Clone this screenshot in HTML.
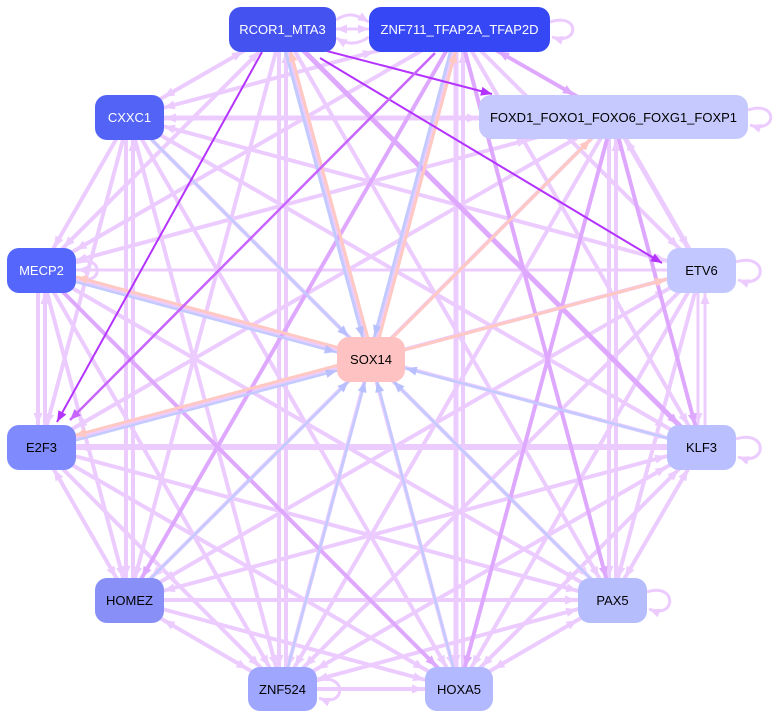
<!DOCTYPE html>
<html><head><meta charset="utf-8"><style>
html,body{margin:0;padding:0;background:#fff;}
svg{display:block;}
.l{stroke:#ecccff;fill:none}
.m{stroke:#dfa8ff;fill:none}
.b{stroke:#c3caff;fill:none}
.r{stroke:#ffc8c2;fill:none}
text{font-family:"Liberation Sans",Arial,sans-serif;font-size:13px;text-anchor:middle}
</style></head><body>
<svg width="777" height="718" viewBox="0 0 777 718" xmlns="http://www.w3.org/2000/svg">
<defs>
<marker id="l0" markerUnits="userSpaceOnUse" orient="auto-start-reverse" refX="11" refY="4.5" markerWidth="12" markerHeight="9" overflow="visible"><path d="M0,0L11,4.5L0,9z" fill="#ecccff"/></marker>
<marker id="l23" markerUnits="userSpaceOnUse" orient="auto-start-reverse" refX="34" refY="4.5" markerWidth="12" markerHeight="9" overflow="visible"><path d="M0,0L11,4.5L0,9z" fill="#ecccff"/></marker>
<marker id="l26" markerUnits="userSpaceOnUse" orient="auto-start-reverse" refX="37" refY="4.5" markerWidth="12" markerHeight="9" overflow="visible"><path d="M0,0L11,4.5L0,9z" fill="#ecccff"/></marker>
<marker id="l32" markerUnits="userSpaceOnUse" orient="auto-start-reverse" refX="43" refY="4.5" markerWidth="12" markerHeight="9" overflow="visible"><path d="M0,0L11,4.5L0,9z" fill="#ecccff"/></marker>
<marker id="l36" markerUnits="userSpaceOnUse" orient="auto-start-reverse" refX="47" refY="4.5" markerWidth="12" markerHeight="9" overflow="visible"><path d="M0,0L11,4.5L0,9z" fill="#ecccff"/></marker>
<marker id="l40" markerUnits="userSpaceOnUse" orient="auto-start-reverse" refX="51" refY="4.5" markerWidth="12" markerHeight="9" overflow="visible"><path d="M0,0L11,4.5L0,9z" fill="#ecccff"/></marker>
<marker id="l45" markerUnits="userSpaceOnUse" orient="auto-start-reverse" refX="56" refY="4.5" markerWidth="12" markerHeight="9" overflow="visible"><path d="M0,0L11,4.5L0,9z" fill="#ecccff"/></marker>
<marker id="l88" markerUnits="userSpaceOnUse" orient="auto-start-reverse" refX="99" refY="4.5" markerWidth="12" markerHeight="9" overflow="visible"><path d="M0,0L11,4.5L0,9z" fill="#ecccff"/></marker>
<marker id="l135" markerUnits="userSpaceOnUse" orient="auto-start-reverse" refX="146" refY="4.5" markerWidth="12" markerHeight="9" overflow="visible"><path d="M0,0L11,4.5L0,9z" fill="#ecccff"/></marker>
<marker id="m23" markerUnits="userSpaceOnUse" orient="auto-start-reverse" refX="34" refY="4.5" markerWidth="12" markerHeight="9" overflow="visible"><path d="M0,0L11,4.5L0,9z" fill="#dfa8ff"/></marker>
<marker id="m26" markerUnits="userSpaceOnUse" orient="auto-start-reverse" refX="37" refY="4.5" markerWidth="12" markerHeight="9" overflow="visible"><path d="M0,0L11,4.5L0,9z" fill="#dfa8ff"/></marker>
<marker id="m32" markerUnits="userSpaceOnUse" orient="auto-start-reverse" refX="43" refY="4.5" markerWidth="12" markerHeight="9" overflow="visible"><path d="M0,0L11,4.5L0,9z" fill="#dfa8ff"/></marker>
<marker id="m45" markerUnits="userSpaceOnUse" orient="auto-start-reverse" refX="56" refY="4.5" markerWidth="12" markerHeight="9" overflow="visible"><path d="M0,0L11,4.5L0,9z" fill="#dfa8ff"/></marker>
<marker id="b23" markerUnits="userSpaceOnUse" orient="auto-start-reverse" refX="34" refY="4.5" markerWidth="12" markerHeight="9" overflow="visible"><path d="M0,0L11,4.5L0,9z" fill="#b8c0ff"/></marker>
<marker id="b32" markerUnits="userSpaceOnUse" orient="auto-start-reverse" refX="43" refY="4.5" markerWidth="12" markerHeight="9" overflow="visible"><path d="M0,0L11,4.5L0,9z" fill="#b8c0ff"/></marker>
<marker id="b36" markerUnits="userSpaceOnUse" orient="auto-start-reverse" refX="47" refY="4.5" markerWidth="12" markerHeight="9" overflow="visible"><path d="M0,0L11,4.5L0,9z" fill="#b8c0ff"/></marker>
<marker id="r23" markerUnits="userSpaceOnUse" orient="auto-start-reverse" refX="34" refY="4.5" markerWidth="12" markerHeight="9" overflow="visible"><path d="M0,0L11,4.5L0,9z" fill="#ffc8c2"/></marker>
<marker id="r32" markerUnits="userSpaceOnUse" orient="auto-start-reverse" refX="43" refY="4.5" markerWidth="12" markerHeight="9" overflow="visible"><path d="M0,0L11,4.5L0,9z" fill="#ffc8c2"/></marker>
<marker id="r36" markerUnits="userSpaceOnUse" orient="auto-start-reverse" refX="47" refY="4.5" markerWidth="12" markerHeight="9" overflow="visible"><path d="M0,0L11,4.5L0,9z" fill="#ffc8c2"/></marker>
<marker id="d0" markerUnits="userSpaceOnUse" orient="auto-start-reverse" refX="11" refY="4.5" markerWidth="12" markerHeight="9" overflow="visible"><path d="M0,0L11,4.5L0,9z" fill="#b433ff"/></marker>
<marker id="p0" markerUnits="userSpaceOnUse" orient="auto-start-reverse" refX="11" refY="4.5" markerWidth="12" markerHeight="9" overflow="visible"><path d="M0,0L11,4.5L0,9z" fill="#c864ff"/></marker>
</defs>

<!-- light edges -->
<g class="l" stroke-width="4">
<line x1="282" y1="29" x2="129" y2="117" marker-start="url(#l45)" marker-end="url(#l40)"/>
<line x1="282" y1="29" x2="41" y2="270" marker-start="url(#l32)" marker-end="url(#l32)"/>
<line x1="282" y1="29" x2="129" y2="600" marker-end="url(#l23)"/>
<line x1="282" y1="29" x2="612" y2="600" marker-end="url(#l26)"/>
<line x1="279" y1="29" x2="279" y2="689" marker-end="url(#l23)"/>
<line x1="286" y1="29" x2="286" y2="689" marker-start="url(#l23)"/>
<line x1="282" y1="29" x2="459" y2="689" marker-end="url(#l23)"/>
<line x1="459" y1="29" x2="129" y2="117" marker-start="url(#l88)" marker-end="url(#l36)"/>
<line x1="459" y1="29" x2="41" y2="270" marker-end="url(#l40)"/>
<line x1="459" y1="29" x2="701" y2="270" marker-end="url(#l32)"/>
<line x1="459" y1="29" x2="701" y2="447" marker-end="url(#l26)"/>
<line x1="459" y1="29" x2="282" y2="689" marker-end="url(#l23)"/>
<line x1="456" y1="29" x2="456" y2="689" stroke-width="5" marker-end="url(#l23)"/>
<line x1="463" y1="29" x2="463" y2="689" marker-start="url(#l23)"/>
<line x1="129" y1="118" x2="613" y2="118" stroke-width="5" marker-start="url(#l36)" marker-end="url(#l135)"/>
<line x1="129" y1="117" x2="41" y2="270" marker-end="url(#l26)"/>
<line x1="129" y1="117" x2="701" y2="270" marker-start="url(#l36)" marker-end="url(#l36)"/>
<line x1="129" y1="117" x2="41" y2="447" marker-end="url(#l23)"/>
<line x1="129" y1="117" x2="701" y2="447" marker-end="url(#l40)"/>
<line x1="126" y1="117" x2="126" y2="600" marker-end="url(#l23)"/>
<line x1="133" y1="117" x2="133" y2="600" marker-start="url(#l23)"/>
<line x1="129" y1="117" x2="612" y2="600" marker-end="url(#l32)"/>
<line x1="129" y1="117" x2="282" y2="689" marker-end="url(#l23)"/>
<line x1="129" y1="117" x2="459" y2="689" marker-end="url(#l26)"/>
<line x1="613" y1="117" x2="41" y2="270" marker-start="url(#l88)" marker-end="url(#l36)"/>
<line x1="613" y1="117" x2="701" y2="270" stroke-width="5" marker-start="url(#l26)" marker-end="url(#l26)"/>
<line x1="613" y1="117" x2="41" y2="447" marker-end="url(#l40)"/>
<line x1="613" y1="117" x2="129" y2="600" marker-end="url(#l32)"/>
<line x1="609" y1="117" x2="609" y2="600" marker-end="url(#l23)"/>
<line x1="616" y1="117" x2="616" y2="600" marker-start="url(#l23)"/>
<line x1="613" y1="117" x2="282" y2="689" marker-end="url(#l26)"/>
<line x1="41" y1="270" x2="701" y2="270" stroke-width="3" marker-start="url(#l36)"/>
<line x1="38" y1="270" x2="38" y2="447" marker-end="url(#l23)"/>
<line x1="45" y1="270" x2="45" y2="447" marker-start="url(#l23)"/>
<line x1="41" y1="270" x2="701" y2="447" marker-start="url(#l36)" marker-end="url(#l36)"/>
<line x1="41" y1="270" x2="129" y2="600" marker-end="url(#l23)"/>
<line x1="41" y1="270" x2="612" y2="600" marker-end="url(#l40)"/>
<line x1="41" y1="270" x2="282" y2="689" marker-end="url(#l26)"/>
<line x1="701" y1="270" x2="41" y2="447" marker-end="url(#l36)"/>
<line x1="698" y1="270" x2="698" y2="447" stroke-width="3" marker-end="url(#l23)"/>
<line x1="705" y1="270" x2="705" y2="447" stroke-width="3" marker-start="url(#l23)"/>
<line x1="701" y1="270" x2="129" y2="600" marker-start="url(#l40)" marker-end="url(#l40)"/>
<line x1="701" y1="270" x2="612" y2="600" marker-end="url(#l23)"/>
<line x1="701" y1="270" x2="282" y2="689" marker-end="url(#l32)"/>
<line x1="701" y1="270" x2="459" y2="689" marker-end="url(#l26)"/>
<line x1="41" y1="447" x2="701" y2="447" stroke-width="6" marker-start="url(#l36)"/>
<line x1="41" y1="447" x2="129" y2="600" marker-start="url(#l26)" marker-end="url(#l26)"/>
<line x1="41" y1="447" x2="612" y2="600" marker-end="url(#l36)"/>
<line x1="41" y1="447" x2="282" y2="689" marker-end="url(#l32)"/>
<line x1="41" y1="447" x2="459" y2="689" marker-end="url(#l40)"/>
<line x1="701" y1="447" x2="129" y2="600" marker-start="url(#l36)" marker-end="url(#l36)"/>
<line x1="701" y1="447" x2="612" y2="600" marker-start="url(#l26)" marker-end="url(#l26)"/>
<line x1="701" y1="447" x2="282" y2="689" marker-start="url(#l40)" marker-end="url(#l40)"/>
<line x1="701" y1="447" x2="459" y2="689" marker-start="url(#l32)" marker-end="url(#l32)"/>
<line x1="129" y1="600" x2="612" y2="600" marker-end="url(#l36)"/>
<line x1="129" y1="600" x2="282" y2="689" marker-start="url(#l40)" marker-end="url(#l40)"/>
<line x1="129" y1="600" x2="459" y2="689" marker-end="url(#l36)"/>
<line x1="612" y1="600" x2="282" y2="689" marker-start="url(#l36)" marker-end="url(#l36)"/>
<line x1="612" y1="600" x2="459" y2="689" marker-start="url(#l40)" marker-end="url(#l40)"/>
<line x1="282" y1="689" x2="459" y2="689" marker-end="url(#l36)"/>
</g>

<!-- self loops and A-B curves -->
<g class="l" stroke-width="3">
<path d="M550,22 C580,12 580,46 552,37" marker-end="url(#l0)"/>
<path d="M748,110 C778,100 778,134 750,125" marker-end="url(#l0)"/>
<path d="M76,263 C104,253 104,287 78,278" marker-end="url(#l0)"/>
<path d="M736,262 C768,252 768,290 738,280" marker-end="url(#l0)"/>
<path d="M736,439 C768,429 768,467 738,457" marker-end="url(#l0)"/>
<path d="M647,592 C677,582 677,620 649,609" marker-end="url(#l0)"/>
<path d="M317,681 C347,671 347,709 319,698" marker-end="url(#l0)"/>
<path d="M336,20 C348,12 356,14 369,22" marker-end="url(#l0)"/>
<path d="M369,37 C357,45 348,45 336,38" marker-end="url(#l0)"/>
<path d="M336,29 L369,29" marker-start="url(#l0)" marker-end="url(#l0)"/>
</g>

<!-- medium edges -->
<g class="m" stroke-width="4">
<line x1="282" y1="29" x2="701" y2="447" stroke-width="5" marker-end="url(#m32)"/>
<line x1="459" y1="29" x2="613" y2="117" marker-start="url(#m45)" marker-end="url(#m45)"/>
<line x1="459" y1="29" x2="129" y2="600" marker-end="url(#m26)"/>
<line x1="459" y1="29" x2="612" y2="600" marker-end="url(#m23)"/>
<line x1="613" y1="117" x2="701" y2="447" marker-end="url(#m23)"/>
<line x1="613" y1="117" x2="459" y2="689" marker-end="url(#m23)"/>
<line x1="41" y1="270" x2="459" y2="689" marker-end="url(#m32)"/>
</g>

<!-- SOX14 edges -->
<g stroke-width="3">
<line class="b" x1="279.6" y1="29.6" x2="368.6" y2="359.6" marker-end="url(#b23)"/>
<line class="r" x1="373.4" y1="358.4" x2="284.4" y2="28.4" marker-end="url(#r23)"/>
<line class="b" x1="456.6" y1="28.4" x2="368.6" y2="358.4" marker-end="url(#b23)"/>
<line class="r" x1="373.4" y1="359.6" x2="461.4" y2="29.6" marker-end="url(#r23)"/>
<line class="b" x1="129" y1="117" x2="371" y2="359" stroke-width="2.5" marker-end="url(#b32)"/>
<line class="r" x1="371" y1="359" x2="613" y2="117" marker-end="url(#r32)"/>
<line class="r" x1="371.6" y1="356.6" x2="41.6" y2="267.6" marker-end="url(#r36)"/>
<line class="b" x1="40.4" y1="272.4" x2="370.4" y2="361.4" stroke-width="2.5" marker-end="url(#b36)"/>
<line class="r" x1="371" y1="359" x2="701" y2="270" marker-end="url(#r36)"/>
<line class="b" x1="41.6" y1="449.4" x2="371.6" y2="361.4" stroke-width="2.5" marker-end="url(#b36)"/>
<line class="r" x1="370.4" y1="356.6" x2="40.4" y2="444.6" marker-end="url(#r36)"/>
<line class="b" x1="701" y1="447" x2="371" y2="359" stroke-width="2.5" marker-end="url(#b36)"/>
<line class="b" x1="129" y1="600" x2="371" y2="359" stroke-width="2.5" marker-end="url(#b32)"/>
<line class="b" x1="612" y1="600" x2="371" y2="359" stroke-width="2.5" marker-end="url(#b32)"/>
<line class="b" x1="282" y1="689" x2="371" y2="359" stroke-width="2.5" marker-end="url(#b23)"/>
<line class="b" x1="459" y1="689" x2="371" y2="359" stroke-width="2.5" marker-end="url(#b23)"/>
</g>

<!-- dark edges -->
<g fill="none" stroke-width="2">
<line x1="300" y1="44" x2="492" y2="94" stroke="#b433ff" marker-end="url(#d0)"/>
<line x1="320" y1="58" x2="662" y2="263" stroke="#b433ff" marker-end="url(#d0)"/>
<line x1="262" y1="52" x2="57" y2="422" stroke="#b433ff" marker-end="url(#d0)"/>
<line x1="435" y1="53" x2="70" y2="420" stroke="#c864ff" stroke-width="2.5" marker-end="url(#p0)"/>
</g>

<!-- nodes -->
<g>
<rect x="229" y="7" width="107" height="45" rx="12" fill="#4452f0"/>
<text x="282.5" y="34" fill="#ffffff">RCOR1_MTA3</text>
<rect x="369" y="7" width="181" height="45" rx="12" fill="#3648f5"/>
<text x="459.5" y="34" fill="#ffffff">ZNF711_TFAP2A_TFAP2D</text>
<rect x="95" y="95" width="69" height="45" rx="12" fill="#5263f5"/>
<text x="129.5" y="122" fill="#ffffff">CXXC1</text>
<rect x="479" y="95" width="269" height="44" rx="12" fill="#c5c9fd"/>
<text x="613.5" y="122" fill="#000000">FOXD1_FOXO1_FOXO6_FOXG1_FOXP1</text>
<rect x="7" y="248" width="69" height="45" rx="12" fill="#5566fd"/>
<text x="41.5" y="275" fill="#ffffff">MECP2</text>
<rect x="667" y="248" width="69" height="45" rx="12" fill="#c2c8ff"/>
<text x="701.5" y="275" fill="#000000">ETV6</text>
<rect x="337" y="337" width="68" height="45" rx="12" fill="#ffc2c2"/>
<text x="371" y="364" fill="#000000">SOX14</text>
<rect x="7" y="425" width="69" height="45" rx="12" fill="#7f8bfc"/>
<text x="41.5" y="452" fill="#000000">E2F3</text>
<rect x="667" y="425" width="69" height="45" rx="12" fill="#b9bfff"/>
<text x="701.5" y="452" fill="#000000">KLF3</text>
<rect x="95" y="578" width="69" height="45" rx="12" fill="#8890f7"/>
<text x="129.5" y="605" fill="#000000">HOMEZ</text>
<rect x="578" y="578" width="69" height="45" rx="12" fill="#b5bdfd"/>
<text x="612.5" y="605" fill="#000000">PAX5</text>
<rect x="248" y="667" width="69" height="44" rx="12" fill="#9ea6fd"/>
<text x="282.5" y="694" fill="#000000">ZNF524</text>
<rect x="425" y="667" width="68" height="44" rx="12" fill="#b3b9fe"/>
<text x="459" y="694" fill="#000000">HOXA5</text>
</g>
</svg>
</body></html>
